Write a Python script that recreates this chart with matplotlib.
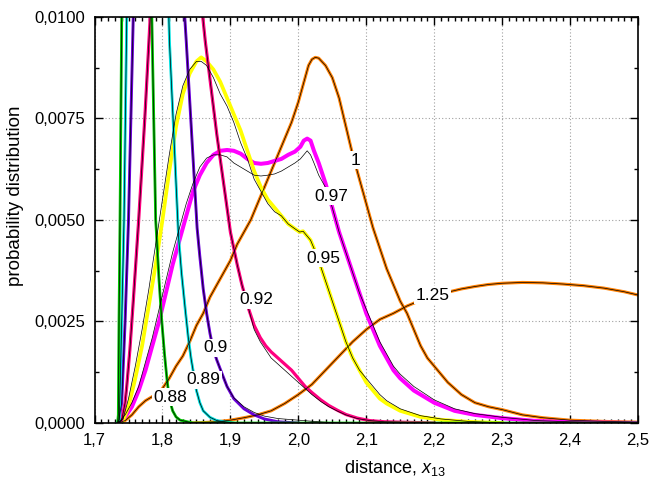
import numpy as np
import matplotlib
matplotlib.use("Agg")
import matplotlib.pyplot as plt
from matplotlib.ticker import MultipleLocator, FuncFormatter

plt.rcParams['font.family'] = ['Liberation Sans', 'DejaVu Sans']
plt.rcParams['mathtext.fontset'] = 'custom'
plt.rcParams['mathtext.rm'] = 'Liberation Sans'
plt.rcParams['mathtext.it'] = 'Liberation Sans:italic'

# k = 0.88 (green)
x088 = [1.734, 1.735, 1.736, 1.7375, 1.74, 1.762, 1.7843, 1.790, 1.795, 1.799, 1.803, 1.8065, 1.81, 1.815, 1.82, 1.826, 1.845, 2.5]
y088 = [0, 0.0002, 0.0025, 0.005, 0.010, 0.045, 0.010, 0.005, 0.0035, 0.0025, 0.0017, 0.0011, 0.0006, 0.0003, 0.00015, 0.00007, 0, 0]

# k = 0.89 (cyan)
x089 = [1.733, 1.7365, 1.74, 1.7434, 1.7474, 1.778, 1.809, 1.8103, 1.8236, 1.828, 1.8335, 1.838, 1.842, 1.846, 1.85, 1.855, 1.86, 1.87, 1.88, 1.905]
y089 = [0, 0.00007, 0.0025, 0.005, 0.010, 0.030, 0.0102, 0.0094, 0.0046, 0.0037, 0.0028, 0.0021, 0.0016, 0.0012, 0.0008, 0.0005, 0.0003, 0.00014, 0.00006, 0]

# k = 0.9 (violet); black = second data set
x090 = [1.735, 1.74, 1.745, 1.75, 1.757, 1.795, 1.832, 1.835, 1.851, 1.855, 1.86, 1.865, 1.87, 1.875, 1.88, 1.888, 1.895, 1.905, 1.92, 1.935, 1.95, 1.97, 2.0]
y090 = [0, 0.0005, 0.0025, 0.005, 0.010, 0.025, 0.0102, 0.0094, 0.0048, 0.0041, 0.0033, 0.0027, 0.0022, 0.0018, 0.00155, 0.0012, 0.0009, 0.0006, 0.00035, 0.0002, 0.0001, 0.00003, 0]
x090b = [1.735, 1.74, 1.745, 1.75, 1.757, 1.795, 1.832, 1.835, 1.851, 1.855, 1.86, 1.865, 1.87, 1.875, 1.88, 1.888, 1.895, 1.905, 1.92, 1.935, 1.95, 1.97, 2.0, 2.03, 2.06]
y090b = [0, 0.0005, 0.0025, 0.005, 0.010, 0.025, 0.0102, 0.0094, 0.0048, 0.0041, 0.0033, 0.0027, 0.0022, 0.0018, 0.00155, 0.0012, 0.0009, 0.00062, 0.0004, 0.00026, 0.00017, 0.00011, 0.00007, 0.00003, 0]

# k = 0.92 (deep pink)
x092 = [1.735, 1.74, 1.745, 1.7474, 1.752, 1.757, 1.765, 1.774, 1.782, 1.82, 1.858, 1.863, 1.88, 1.90, 1.91, 1.917, 1.927, 1.935, 1.944, 1.952, 1.96, 1.97, 1.98, 1.99, 2.00, 2.01, 2.02, 2.033, 2.045, 2.058, 2.07, 2.087, 2.105, 2.127, 2.2]
y092 = [0, 0.00007, 0.0005, 0.0009, 0.0018, 0.003, 0.005, 0.0075, 0.0100, 0.020, 0.0102, 0.0094, 0.0071, 0.0047, 0.0039, 0.0034, 0.0028, 0.0024, 0.0021, 0.0019, 0.00175, 0.0016, 0.00145, 0.0013, 0.0011, 0.0009, 0.00075, 0.00057, 0.00043, 0.00031, 0.00021, 0.00012, 0.00006, 0.00003, 0]
y092b = [0, 0.00007, 0.0005, 0.0009, 0.0018, 0.003, 0.005, 0.0075, 0.0100, 0.020, 0.0102, 0.0094, 0.0071, 0.0047, 0.0039, 0.0034, 0.0028, 0.0023, 0.0020, 0.0018, 0.0016, 0.00145, 0.0013, 0.00115, 0.0010, 0.00085, 0.0007, 0.00053, 0.0004, 0.00029, 0.0002, 0.00011, 0.00006, 0.00003, 0]

# k = 0.95 (yellow)
x095 = [1.735, 1.742, 1.75, 1.76, 1.77, 1.78, 1.79, 1.80, 1.81, 1.82, 1.83, 1.84, 1.85, 1.857, 1.865, 1.875, 1.885, 1.895, 1.905, 1.915, 1.925, 1.935, 1.945, 1.955, 1.965, 1.975, 1.985, 1.995, 2.002, 2.007, 2.013, 2.018, 2.023, 2.03, 2.04, 2.05, 2.06, 2.07, 2.08, 2.09, 2.10, 2.11, 2.12, 2.13, 2.15, 2.18, 2.21, 2.25, 2.30]
y095 = [0, 0.00007, 0.0004, 0.0011, 0.0019, 0.0029, 0.0039, 0.0050, 0.0062, 0.0073, 0.0081, 0.0086, 0.0089, 0.0090, 0.0089, 0.0087, 0.0084, 0.0080, 0.0076, 0.0072, 0.0067, 0.0062, 0.0058, 0.0055, 0.0053, 0.0051, 0.0049, 0.00478, 0.0047, 0.00472, 0.0046, 0.0045, 0.0043, 0.0040, 0.0035, 0.0030, 0.0025, 0.0020, 0.0016, 0.0013, 0.0010, 0.0008, 0.0006, 0.00048, 0.0003, 0.00015, 0.00008, 0.00003, 0]
y095b = [0, 0.0001, 0.0006, 0.0014, 0.0023, 0.0033, 0.0044, 0.0055, 0.0066, 0.0076, 0.0083, 0.0087, 0.0089, 0.0089, 0.0088, 0.0085, 0.0081, 0.0078, 0.0074, 0.0069, 0.0065, 0.0060, 0.0057, 0.0054, 0.0052, 0.0051, 0.0049, 0.00478, 0.0047, 0.00472, 0.0046, 0.0045, 0.0043, 0.0040, 0.0035, 0.0030, 0.0025, 0.0020, 0.0016, 0.0013, 0.0011, 0.0009, 0.0007, 0.00055, 0.00035, 0.00018, 0.0001, 0.00004, 0]

# k = 0.97 (magenta)
x097 = [1.735, 1.745, 1.755, 1.765, 1.775, 1.785, 1.795, 1.805, 1.815, 1.825, 1.835, 1.845, 1.855, 1.865, 1.875, 1.885, 1.895, 1.905, 1.915, 1.925, 1.935, 1.945, 1.955, 1.965, 1.975, 1.985, 1.995, 2.003, 2.008, 2.013, 2.018, 2.023, 2.03, 2.04, 2.05, 2.06, 2.07, 2.08, 2.09, 2.10, 2.11, 2.12, 2.13, 2.14, 2.15, 2.17, 2.20, 2.23, 2.26, 2.30, 2.35, 2.40, 2.50]
y097 = [0, 0.00015, 0.0004, 0.0008, 0.0013, 0.0019, 0.0025, 0.0032, 0.0039, 0.0045, 0.0051, 0.0057, 0.0061, 0.0064, 0.0066, 0.0067, 0.00672, 0.0067, 0.00663, 0.0065, 0.0064, 0.00638, 0.0064, 0.00645, 0.0065, 0.0066, 0.00668, 0.0068, 0.00695, 0.0070, 0.00695, 0.0067, 0.0064, 0.0059, 0.0053, 0.0047, 0.0042, 0.0037, 0.0032, 0.0027, 0.0023, 0.0019, 0.0016, 0.0013, 0.0011, 0.0008, 0.0005, 0.0003, 0.0002, 0.00012, 0.00005, 0.00002, 0]
y097b = [0, 0.0002, 0.0005, 0.0009, 0.0015, 0.0021, 0.0028, 0.0035, 0.0042, 0.0048, 0.0054, 0.0059, 0.0063, 0.00652, 0.0066, 0.0066, 0.00655, 0.0064, 0.0063, 0.0062, 0.0061, 0.00608, 0.0061, 0.00613, 0.0062, 0.0063, 0.0064, 0.0065, 0.0066, 0.0067, 0.0066, 0.0064, 0.0061, 0.0058, 0.0053, 0.0047, 0.0042, 0.0037, 0.0032, 0.0028, 0.0024, 0.0020, 0.0017, 0.0014, 0.0012, 0.0009, 0.00057, 0.00035, 0.00023, 0.00014, 0.00006, 0.00003, 0]

# k = 1 (orange)
x100 = [1.735, 1.745, 1.755, 1.765, 1.775, 1.79, 1.80, 1.81, 1.82, 1.83, 1.84, 1.85, 1.86, 1.87, 1.88, 1.89, 1.90, 1.91, 1.92, 1.93, 1.94, 1.95, 1.96, 1.97, 1.98, 1.99, 2.00, 2.01, 2.015, 2.02, 2.025, 2.03, 2.04, 2.05, 2.06, 2.07, 2.08, 2.09, 2.10, 2.11, 2.12, 2.13, 2.14, 2.15, 2.16, 2.17, 2.18, 2.19, 2.20, 2.22, 2.24, 2.26, 2.28, 2.30, 2.33, 2.36, 2.40, 2.45, 2.50]
y100 = [0, 0.00006, 0.0002, 0.0004, 0.00055, 0.0007, 0.00085, 0.0011, 0.0014, 0.00165, 0.0020, 0.0024, 0.0027, 0.0031, 0.0034, 0.0037, 0.0040, 0.0044, 0.0047, 0.0050, 0.0054, 0.0058, 0.0062, 0.0066, 0.0070, 0.0074, 0.0079, 0.0085, 0.0088, 0.00895, 0.0090, 0.00898, 0.0088, 0.0085, 0.0080, 0.0073, 0.0066, 0.0060, 0.0054, 0.0048, 0.0043, 0.0038, 0.0034, 0.0030, 0.0027, 0.0023, 0.0019, 0.0016, 0.0014, 0.0010, 0.0007, 0.0005, 0.0004, 0.00033, 0.0002, 0.00013, 0.00007, 0.00004, 0.00002]

# k = 1.25 (orange)
x125 = [1.84, 1.86, 1.88, 1.90, 1.92, 1.94, 1.96, 1.98, 2.00, 2.02, 2.04, 2.06, 2.08, 2.10, 2.12, 2.14, 2.16, 2.18, 2.20, 2.22, 2.24, 2.26, 2.28, 2.30, 2.33, 2.36, 2.39, 2.42, 2.45, 2.48, 2.50]
y125 = [0, 0.00001, 0.00003, 0.00007, 0.00013, 0.0002, 0.0003, 0.00048, 0.0007, 0.00095, 0.0013, 0.00165, 0.0020, 0.0023, 0.00255, 0.0027, 0.00288, 0.00302, 0.00313, 0.00322, 0.0033, 0.00336, 0.00341, 0.00344, 0.00346, 0.00345, 0.00342, 0.00338, 0.00332, 0.00323, 0.00315]

# curve labels
label_text = ['0.88', '0.89', '0.9', '0.92', '0.95', '0.97', '1', '1.25']
label_x = [1.8117, 1.860, 1.878, 1.938, 2.0375, 2.048, 2.0846, 2.198]
label_y = [0.00064, 0.00106, 0.00185, 0.00303, 0.00406, 0.00558, 0.00647, 0.00315]

curves = [
    (x125, y125, x125, y125, '#ff8000', 2.2),
    (x100, y100, x100, y100, '#ff8000', 2.2),
    (x097, y097, x097, y097b, '#ff00ff', 2.9),
    (x095, y095, x095, y095b, '#ffff00', 2.7),
    (x092, y092, x092, y092b, '#ff0080', 2.3),
    (x090, y090, x090b, y090b, '#6a00d8', 2.1),
    (x089, y089, x089, y089, '#00e0e0', 2.0),
    (x088, y088, x088, y088, '#00c800', 2.0),
]

fig = plt.figure(figsize=(6.52, 4.86), dpi=100)
ax = fig.add_axes([0.145, 0.1296, 0.8335, 0.836])

for xc, yc, xb, yb, col, lw in curves:
    ax.plot(xc, yc, color=col, lw=lw, zorder=3, solid_joinstyle='round')
for xc, yc, xb, yb, col, lw in curves:
    ax.plot(xb, yb, color='black', lw=0.5, zorder=4)

for t, lx, ly in zip(label_text, label_x, label_y):
    ax.text(lx, ly, t, ha='center', va='center', fontsize=12.5, zorder=6,
            bbox=dict(facecolor='white', edgecolor='none', pad=1.0))

ax.set_xlim(1.7, 2.5)
ax.set_ylim(0, 0.01)
ax.xaxis.set_major_locator(MultipleLocator(0.1))
ax.xaxis.set_minor_locator(MultipleLocator(0.01))
ax.yaxis.set_major_locator(MultipleLocator(0.0025))
ax.yaxis.set_minor_locator(MultipleLocator(0.00125))
ax.xaxis.set_major_formatter(FuncFormatter(lambda v, p: f"{v:.1f}".replace('.', ',')))
ax.yaxis.set_major_formatter(FuncFormatter(lambda v, p: f"{v:.4f}".replace('.', ',')))
ax.tick_params(which='both', direction='in', top=True, right=True, labelsize=12, width=1.0)
ax.tick_params(which='major', length=6, pad=7)
ax.tick_params(which='minor', length=3)
ax.grid(True, which='major', color='#a0a0a0', linestyle=(0, (1, 2)), linewidth=0.8, zorder=0)
for s in ax.spines.values():
    s.set_linewidth(1.2)
    s.set_zorder(7)

ax.set_xlabel('distance, $x_{13}$', fontsize=13)
ax.set_ylabel('probability distribution', fontsize=13.5)
ax.xaxis.set_label_coords(0.553, -0.085)
ax.yaxis.set_label_coords(-0.13, 0.56)

fig.savefig('out.png', dpi=100)
